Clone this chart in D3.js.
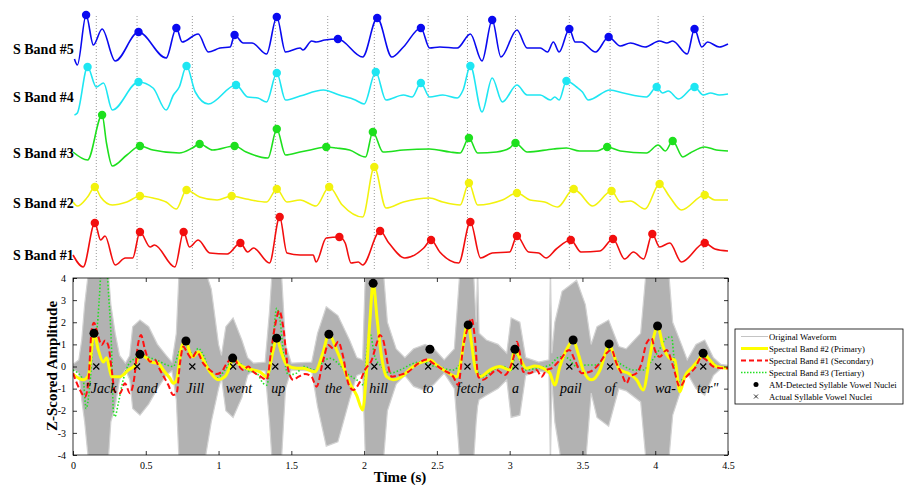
<!DOCTYPE html>
<html><head><meta charset="utf-8">
<script src="https://cdn.jsdelivr.net/npm/d3@7"></script>
<style>
body{margin:0;background:#fff}
svg{display:block}
text{font-family:"Liberation Serif","Times New Roman",serif;fill:#000}
</style>
</head><body>
<svg id="chart" width="906" height="485"></svg>
<script>
// ---------- data ----------
const timeDomain = [0, 4.5];
const xTicks = [0, 0.5, 1, 1.5, 2, 2.5, 3, 3.5, 4, 4.5];
const xTickLabels = ["0", "0.5", "1", "1.5", "2", "2.5", "3", "3.5", "4", "4.5"];
const yTicks = [-4, -3, -2, -1, 0, 1, 2, 3, 4];
const yTickLabels = ["-4", "-3", "-2", "-1", "0", "1", "2", "3", "4"];

// actual syllable vowel nuclei (s)
const nucleiTimes = [0.16, 0.44, 0.82, 1.10, 1.39, 1.75, 2.07, 2.44, 2.71, 3.04, 3.41, 3.69, 4.02, 4.33];
const words = ["\"Jack", "and", "Jill", "went", "up", "the", "hill", "to", "fetch", "a", "pail", "of", "wa-", "ter\""];
const wordTimes = [0.19, 0.51, 0.84, 1.14, 1.41, 1.79, 2.10, 2.44, 2.73, 3.04, 3.42, 3.69, 4.07, 4.36];

// spectral band envelopes [time, amplitude]
const bandNames = ["S Band #5", "S Band #4", "S Band #3", "S Band #2", "S Band #1"];
const band5 = [[0.01,-1.2],[0.03,-1.8],[0.09,3.2],[0.14,0.2],[0.20,1.8],[0.29,-1.4],[0.45,1.5],[0.64,-1.1],[0.71,1.9],[0.75,0.5],[0.86,1.3],[0.93,-0.5],[1.01,-0.1],[1.08,0],[1.11,1.2],[1.17,0.4],[1.23,0.4],[1.33,-0.7],[1.40,3.0],[1.46,-0.5],[1.56,-0.1],[1.58,-0.3],[1.64,0.6],[1.67,0.5],[1.73,0.7],[1.82,0.8],[1.99,-1.0],[2.09,2.9],[2.19,-1.0],[2.27,0],[2.39,1.9],[2.45,-0.1],[2.52,0],[2.64,-0.1],[2.73,1.3],[2.81,-1.4],[2.88,2.7],[2.94,-1.0],[3.05,1.7],[3.12,-0.1],[3.21,-0.1],[3.26,-0.5],[3.30,0.5],[3.34,-0.5],[3.41,1.8],[3.45,0.5],[3.49,0.5],[3.59,-0.5],[3.68,1.0],[3.76,0.1],[3.83,0.4],[3.93,0],[4.03,0.6],[4.08,0.4],[4.12,0.6],[4.22,-0.7],[4.27,1.8],[4.32,0],[4.36,0.5],[4.44,0],[4.5,0.3]];
const band5Peaks = [0.09,0.45,0.71,1.11,1.40,1.82,2.09,2.39,2.88,3.41,3.68,4.27];
const band4 = [[0.01,-2.0],[0.03,-1.8],[0.10,2.8],[0.16,0.8],[0.21,1.2],[0.27,-1.5],[0.45,1.3],[0.55,0.7],[0.64,-1.5],[0.69,0],[0.73,0.8],[0.78,2.9],[0.84,0.3],[0.93,-0.9],[1.12,1.0],[1.20,-0.2],[1.27,-0.3],[1.33,-0.7],[1.40,2.2],[1.46,-0.5],[1.56,-0.1],[1.72,0.5],[1.83,0],[1.94,-0.5],[2.00,-0.9],[2.08,2.3],[2.15,-0.5],[2.27,0],[2.33,-0.2],[2.39,1.2],[2.45,-0.2],[2.54,0],[2.64,-0.3],[2.68,0.5],[2.73,2.9],[2.81,-1.7],[2.88,1.7],[2.95,-0.7],[3.05,1.0],[3.12,0],[3.21,0],[3.28,-0.5],[3.31,-0.2],[3.34,-0.5],[3.39,1.4],[3.46,0.8],[3.50,0.3],[3.54,-0.5],[3.69,0.5],[3.78,0.2],[3.94,-0.2],[4.01,0.8],[4.05,0.2],[4.09,0.4],[4.16,-0.4],[4.27,0.8],[4.33,0],[4.38,0.2],[4.44,0],[4.5,0.1]];
const band4Peaks = [0.10,0.45,0.78,1.12,1.40,2.08,2.39,2.73,3.39,4.01,4.27];
const band3 = [[0.0,-0.1],[0.10,-0.9],[0.20,3.6],[0.23,0.8],[0.27,-1.5],[0.37,-0.4],[0.46,0.5],[0.55,0.1],[0.73,-0.2],[0.82,0.3],[0.87,0.7],[0.96,0.1],[1.11,0.5],[1.19,-0.1],[1.34,-0.7],[1.40,2.2],[1.46,-0.4],[1.56,-0.1],[1.63,0.1],[1.74,0.4],[1.81,0.3],[1.90,0.1],[2.01,-0.6],[2.06,1.9],[2.13,-0.1],[2.27,0.1],[2.45,0.2],[2.59,-0.1],[2.66,-0.2],[2.72,1.3],[2.78,-0.2],[2.91,-0.1],[3.00,0.3],[3.04,0.8],[3.12,-0.1],[3.30,0.2],[3.39,0.3],[3.48,0],[3.60,0],[3.67,0.4],[3.76,0],[3.94,-0.2],[4.02,0.6],[4.07,0],[4.12,1.0],[4.19,-0.6],[4.24,-0.2],[4.34,0.4],[4.42,0.1],[4.5,0]];
const band3Peaks = [0.20,0.46,0.87,1.11,1.40,1.74,2.06,2.72,3.04,3.67,4.12];
const band2 = [[0.0,-0.1],[0.03,-0.5],[0.10,0.4],[0.15,1.4],[0.19,0.4],[0.27,-0.4],[0.37,-0.1],[0.46,0.5],[0.55,0.3],[0.64,-0.1],[0.71,-0.8],[0.78,1.1],[0.87,0.4],[0.99,0.1],[1.09,0.5],[1.19,0.2],[1.33,-0.1],[1.40,1.2],[1.47,-0.1],[1.56,0.1],[1.67,-0.5],[1.76,1.4],[1.85,-0.4],[1.99,-1.6],[2.07,3.4],[2.15,-0.7],[2.27,-0.1],[2.45,0.3],[2.54,-0.1],[2.66,-0.4],[2.72,1.8],[2.78,-0.4],[2.95,0.1],[3.05,0.8],[3.14,0.1],[3.24,-0.1],[3.33,-0.6],[3.44,1.2],[3.48,0.8],[3.57,-0.5],[3.70,1.0],[3.76,-0.1],[3.83,0],[3.93,-0.8],[4.03,1.7],[4.10,0.4],[4.18,-0.9],[4.34,0.6],[4.41,0.1],[4.5,0.1]];
const band2Peaks = [0.15,0.46,0.78,1.09,1.40,1.76,2.07,2.72,3.05,3.44,3.70,4.03,4.34];
const band1 = [[0.0,-0.2],[0.07,-1.4],[0.15,3.0],[0.19,1.3],[0.22,1.7],[0.29,-1.2],[0.36,-0.5],[0.41,-0.5],[0.46,2.1],[0.53,0.6],[0.56,0.8],[0.70,-1.4],[0.76,2.1],[0.80,0.6],[0.86,1.3],[0.94,0],[1.06,-0.1],[1.15,1.0],[1.20,0.1],[1.24,0.5],[1.35,-1.0],[1.42,3.6],[1.47,0],[1.56,-0.2],[1.65,-0.2],[1.67,-0.9],[1.74,1.5],[1.83,1.6],[1.87,1.0],[1.91,-1.0],[1.96,-0.9],[1.99,-1.2],[2.11,2.2],[2.17,1.0],[2.28,-0.5],[2.41,0.5],[2.46,1.3],[2.52,0.1],[2.65,-1.0],[2.73,3.1],[2.80,-0.5],[2.88,0],[3.00,0.1],[3.05,1.7],[3.13,0.1],[3.20,0],[3.25,-0.5],[3.32,0.4],[3.42,1.3],[3.49,0.1],[3.62,0.2],[3.71,1.4],[3.79,-0.6],[3.85,0.1],[3.92,-0.6],[3.98,1.9],[4.03,0.6],[4.10,1.0],[4.18,-0.9],[4.34,1.0],[4.41,0.4],[4.5,0.2]];
const band1Peaks = [0.15,0.46,0.76,1.15,1.42,1.83,2.11,2.46,2.73,3.05,3.42,3.71,3.98,4.34];

// original waveform amplitude envelope, z-scored
const waveTimes = [0.00,0.04,0.06,0.08,0.11,0.24,0.26,0.29,0.32,0.36,0.39,0.41,0.46,0.52,0.58,0.64,0.68,0.71,0.73,0.90,0.95,1.00,1.02,1.05,1.10,1.16,1.20,1.24,1.32,1.35,1.37,1.43,1.46,1.50,1.64,1.68,1.74,1.82,1.90,1.95,1.99,2.01,2.13,2.16,2.22,2.28,2.34,2.42,2.48,2.55,2.62,2.66,2.75,2.77,2.78,2.79,2.84,2.92,2.98,3.01,3.07,3.11,3.20,3.27,3.28,3.29,3.31,3.36,3.46,3.52,3.56,3.60,3.68,3.75,3.80,3.90,3.94,4.09,4.12,4.18,4.22,4.28,4.34,4.40,4.45,4.50];
const waveUpper = [0.1,0.3,1.2,2.8,4.5,4.5,2.8,1.5,0.5,0.15,0.5,1.8,2.1,1.8,1.0,0.5,0.2,1.5,4.5,4.5,3.5,1.0,0.5,1.8,2.2,1.2,0.4,0.15,0.2,2.5,4.5,4.5,1.0,0.15,0.2,1.5,2.7,2.3,1.2,0.4,0.3,4.5,4.5,2.0,0.8,0.4,0.8,1.0,0.8,0.3,0.8,4.5,4.5,2.0,4.5,1.5,1.2,1.0,0.6,2.2,2.0,0.4,0.2,0.3,4.5,0.6,2.0,3.4,3.9,2.8,1.0,1.8,2.1,0.9,0.8,1.5,4.5,4.5,2.0,1.0,0.3,1.0,1.2,0.4,0.1,0.05];
const waveLower = [-0.1,-0.3,-1.5,-2.5,-4.5,-4.5,-2.5,-1.8,-0.6,-0.15,-0.6,-1.9,-2.2,-1.7,-1.0,-0.4,-0.2,-1.5,-4.5,-4.5,-2.5,-1.0,-0.5,-2.0,-2.3,-1.4,-0.4,-0.15,-0.2,-2.5,-4.5,-4.5,-1.0,-0.15,-0.2,-1.8,-3.6,-3.4,-1.5,-0.4,-0.3,-4.5,-4.5,-2.0,-0.8,-0.4,-0.9,-1.1,-0.8,-0.3,-1.0,-4.5,-4.5,-2.5,-1.8,-1.5,-1.3,-1.0,-0.6,-2.3,-2.2,-0.4,-0.2,-0.3,-4.5,-0.6,-2.5,-4.5,-4.5,-4.5,-1.2,-2.3,-2.7,-1.0,-1.1,-1.6,-4.5,-4.5,-2.2,-1.0,-0.3,-1.0,-1.3,-0.4,-0.1,-0.05];

const primary = [[0.00,-0.34],[0.07,-0.6],[0.105,-0.43],[0.144,1.5],[0.174,0.75],[0.208,0.2],[0.231,0.4],[0.266,-0.46],[0.323,-0.46],[0.38,-0.16],[0.426,0.07],[0.46,0.55],[0.506,0.38],[0.54,0.2],[0.586,0.14],[0.62,-0.16],[0.666,-0.53],[0.689,-0.76],[0.712,-0.6],[0.747,0.9],[0.776,1.15],[0.804,0.6],[0.826,0.44],[0.861,0.67],[0.895,0.29],[0.941,-0.24],[0.998,-0.6],[1.044,-0.46],[1.078,0],[1.097,0.38],[1.147,0.07],[1.193,-0.08],[1.238,-0.16],[1.284,-0.24],[1.33,-0.46],[1.376,0.75],[1.399,1.28],[1.433,0.6],[1.468,0.07],[1.536,-0.08],[1.582,-0.08],[1.662,-0.24],[1.719,0.67],[1.758,1.46],[1.811,0.75],[1.856,0],[1.902,-0.76],[1.948,-1.29],[1.99,-1.97],[2.017,-0.16],[2.04,2.1],[2.062,3.76],[2.09,2.1],[2.12,0.44],[2.155,-0.46],[2.20,-0.6],[2.257,-0.46],[2.337,0],[2.406,0.22],[2.452,0.29],[2.498,0.07],[2.567,-0.24],[2.635,-0.46],[2.67,0.44],[2.697,1.65],[2.715,1.88],[2.738,1.05],[2.761,0],[2.795,-0.46],[2.864,-0.16],[2.933,0],[3.001,-0.16],[3.036,0.78],[3.07,0.37],[3.116,-0.08],[3.173,0.02],[3.23,-0.08],[3.276,-0.3],[3.31,-0.84],[3.345,0],[3.402,0.9],[3.436,1.2],[3.47,0.6],[3.505,-0.16],[3.562,-0.6],[3.62,-0.16],[3.665,0.75],[3.683,1.02],[3.711,0.6],[3.757,-0.16],[3.814,-0.3],[3.872,-0.6],[3.917,-1.06],[3.963,0.44],[3.99,1.35],[4.016,1.83],[4.054,0.9],[4.10,0.37],[4.135,0.29],[4.169,-1.14],[4.203,-0.46],[4.26,0],[4.306,0.37],[4.329,0.6],[4.375,0.29],[4.421,0],[4.5,-0.08]];
const secondary = [[0.00,-0.3],[0.048,-1.06],[0.082,-1.37],[0.105,-0.76],[0.128,1.65],[0.144,1.98],[0.174,1.35],[0.197,0.97],[0.22,1.17],[0.242,0.97],[0.266,-0.16],[0.288,-1.14],[0.323,-1.21],[0.357,-0.76],[0.391,-1.21],[0.419,-0.6],[0.448,1.05],[0.467,1.42],[0.495,0.75],[0.529,0.22],[0.563,0.29],[0.598,-0.16],[0.655,-0.84],[0.689,-1.29],[0.712,-1.21],[0.735,0.14],[0.758,0.9],[0.781,0.67],[0.815,0.37],[0.85,0.67],[0.895,0.14],[0.941,-0.16],[0.987,-0.34],[1.021,-0.24],[1.056,0.14],[1.101,0.4],[1.135,0.07],[1.17,-0.16],[1.204,0],[1.238,-0.24],[1.284,-0.43],[1.33,-0.6],[1.365,0.9],[1.387,1.8],[1.417,2.52],[1.444,1.8],[1.479,-0.16],[1.513,-0.6],[1.55,-0.46],[1.593,-0.34],[1.639,-0.46],[1.673,-0.91],[1.719,0.29],[1.753,0.97],[1.788,0.82],[1.822,1.12],[1.856,0.44],[1.891,-0.76],[1.925,-1.06],[1.971,-0.69],[2.005,-0.16],[2.052,0.29],[2.09,1.12],[2.108,1.42],[2.131,1.2],[2.166,0],[2.189,-0.46],[2.246,-0.38],[2.303,-0.24],[2.372,0.14],[2.429,0.32],[2.475,0.14],[2.543,-0.16],[2.612,-0.46],[2.646,-0.84],[2.681,0.9],[2.715,1.8],[2.738,2.18],[2.761,1.28],[2.784,-0.46],[2.818,-0.6],[2.864,-0.38],[2.91,-0.16],[2.967,-0.38],[3.001,-0.08],[3.03,0.5],[3.05,1.12],[3.07,0.6],[3.093,-0.24],[3.139,-0.3],[3.185,-0.16],[3.219,-0.46],[3.253,-0.16],[3.288,-0.08],[3.345,0.29],[3.409,0.75],[3.448,0.29],[3.494,-0.3],[3.551,-0.24],[3.608,0.07],[3.665,0.6],[3.70,0.75],[3.734,0.14],[3.768,-0.3],[3.803,-0.76],[3.826,-0.46],[3.872,-0.3],[3.906,0.14],[3.94,1.05],[3.975,1.28],[3.997,0.75],[4.031,0.44],[4.078,0.75],[4.123,0],[4.169,-0.91],[4.215,-0.46],[4.272,-0.08],[4.318,0.41],[4.352,0.29],[4.398,0],[4.466,-0.08],[4.5,-0.08]];
const tertiary = [[0.00,-0.16],[0.07,-0.6],[0.09,-1.9],[0.12,-0.5],[0.14,1.35],[0.163,1.65],[0.18,3.0],[0.197,4.6],[0.227,4.6],[0.247,3.0],[0.266,0.6],[0.277,-1.97],[0.288,-2.27],[0.311,-1.67],[0.345,-0.6],[0.38,0.07],[0.426,0.37],[0.46,0.52],[0.506,0.44],[0.575,0.29],[0.644,0.07],[0.689,0],[0.735,0.75],[0.781,0.9],[0.826,0.52],[0.861,0.82],[0.895,0.52],[0.941,-0.24],[0.987,-0.53],[1.044,-0.16],[1.09,0.22],[1.147,0.14],[1.193,-0.16],[1.262,-0.3],[1.307,-0.76],[1.33,-0.84],[1.376,1.35],[1.399,2.63],[1.422,2.1],[1.444,0.75],[1.479,-0.38],[1.536,-0.3],[1.582,0],[1.662,-0.16],[1.719,0.22],[1.765,0.37],[1.822,0.14],[1.88,-0.3],[1.948,-0.6],[1.999,-0.84],[2.017,0.6],[2.04,1.5],[2.074,0.44],[2.12,0],[2.177,-0.3],[2.246,-0.16],[2.337,0.14],[2.406,0.22],[2.452,0.07],[2.52,-0.04],[2.612,-0.16],[2.658,0.14],[2.697,1.5],[2.715,1.8],[2.745,0.9],[2.773,-0.16],[2.818,-0.46],[2.887,-0.16],[2.955,0],[3.013,-0.16],[3.04,0.6],[3.07,0.29],[3.104,-0.16],[3.185,-0.08],[3.276,0.07],[3.345,0.44],[3.402,0.37],[3.459,0],[3.528,0.07],[3.597,0.07],[3.654,0.52],[3.688,0.82],[3.734,0.29],[3.791,0],[3.848,-0.16],[3.917,-0.16],[3.963,0.14],[4.02,0.67],[4.078,1.28],[4.112,1.35],[4.135,0],[4.169,-0.69],[4.215,-0.3],[4.272,0],[4.318,0.44],[4.375,0.29],[4.431,0],[4.5,-0.08]];

// AM-detected syllable vowel nuclei
const detectedTimes = [0.144,0.46,0.776,1.097,1.399,1.758,2.062,2.452,2.715,3.036,3.436,3.683,4.016,4.329];
const detectedValues = [1.5,0.55,1.15,0.38,1.28,1.46,3.76,0.78,1.88,0.78,1.2,1.02,1.83,0.6];

const legendLabels = ["Original Waveform", "Spectral Band #2 (Primary)", "Spectral Band #1 (Secondary)",
  "Spectral Band #3 (Tertiary)", "AM-Detected Syllable Vowel Nuclei", "Actual Syllable Vowel Nuclei"];

// ---------- drawing ----------
const svg = d3.select("#chart");
const x = d3.scaleLinear().domain(timeDomain).range([73, 728]);

// upper panel: stacked spectral band envelopes
const bands = [
  {name: bandNames[0], data: band5, peaks: band5Peaks, color: "#0a0af0", base: 47},
  {name: bandNames[1], data: band4, peaks: band4Peaks, color: "#1ee6f2", base: 95},
  {name: bandNames[2], data: band3, peaks: band3Peaks, color: "#1ee01e", base: 151},
  {name: bandNames[3], data: band2, peaks: band2Peaks, color: "#f2f20e", base: 201},
  {name: bandNames[4], data: band1, peaks: band1Peaks, color: "#f20e0e", base: 253}
];

const bandPanel = svg.append("g");
bandPanel.selectAll("line.nuc").data(nucleiTimes).join("line")
  .attr("x1", d => x(d)).attr("x2", d => x(d))
  .attr("y1", 16).attr("y2", 270)
  .attr("stroke", "#9a9a9a").attr("stroke-width", 1)
  .attr("stroke-dasharray", "1,2");

bands.forEach(b => {
  const by = d3.scaleLinear().domain([-1, 1]).range([b.base + 10, b.base - 10]);
  const line = d3.line().x(d => x(d[0])).y(d => by(d[1])).curve(d3.curveMonotoneX);
  bandPanel.append("path").datum(b.data).attr("d", line)
    .attr("fill", "none").attr("stroke", b.color).attr("stroke-width", 1.6);
  const pk = b.data.filter(d => b.peaks.includes(d[0]));
  bandPanel.selectAll(null).data(pk).join("circle")
    .attr("cx", d => x(d[0])).attr("cy", d => by(d[1])).attr("r", 4.2)
    .attr("fill", b.color);
  bandPanel.append("text").attr("x", 13).attr("y", b.base + 3).attr("dy", "0.32em")
    .attr("font-size", 14).attr("font-weight", "bold").text(b.name);
});

// lower panel
const y = d3.scaleLinear().domain([-4, 4]).range([455, 278]);
const plot = svg.append("g");
svg.append("defs").append("clipPath").attr("id", "plotClip")
  .append("rect").attr("x", 73).attr("y", 278).attr("width", 655).attr("height", 177);
const inner = plot.append("g").attr("clip-path", "url(#plotClip)");

const wave = waveTimes.map((t, i) => [t, waveUpper[i], waveLower[i]]);
inner.append("path").datum(wave)
  .attr("d", d3.area().x(d => x(d[0])).y0(d => y(d[2])).y1(d => y(d[1])).curve(d3.curveLinear))
  .attr("fill", "#b2b2b2").attr("stroke", "#d2d2d2").attr("stroke-width", 1.2);

const bl = d3.line().x(d => x(d[0])).y(d => y(d[1])).curve(d3.curveMonotoneX);
inner.append("path").datum(tertiary).attr("d", bl)
  .attr("fill", "none").attr("stroke", "#22e022").attr("stroke-width", 1.6).attr("stroke-dasharray", "1.5,2");
inner.append("path").datum(primary).attr("d", bl)
  .attr("fill", "none").attr("stroke", "#ffff00").attr("stroke-width", 3);
inner.append("path").datum(secondary).attr("d", bl)
  .attr("fill", "none").attr("stroke", "#ff1010").attr("stroke-width", 2).attr("stroke-dasharray", "6,3");

// actual nuclei (x marks)
inner.selectAll("path.xm").data(nucleiTimes).join("path")
  .attr("d", d => `M${x(d)-3},${y(0)-3}L${x(d)+3},${y(0)+3}M${x(d)-3},${y(0)+3}L${x(d)+3},${y(0)-3}`)
  .attr("stroke", "#000").attr("stroke-width", 1.1);
// detected nuclei
inner.selectAll("circle.det").data(detectedTimes).join("circle")
  .attr("cx", d => x(d)).attr("cy", (d, i) => y(detectedValues[i])).attr("r", 4.5)
  .attr("fill", "#000");

// words
plot.selectAll("text.word").data(words).join("text")
  .attr("x", (d, i) => x(wordTimes[i])).attr("y", y(-1.2))
  .attr("text-anchor", "middle").attr("font-size", 14).attr("font-style", "italic")
  .text(d => d);

// frame and axes (inward ticks)
plot.append("rect").attr("x", 73).attr("y", 278).attr("width", 655).attr("height", 177)
  .attr("fill", "none").attr("stroke", "#000").attr("stroke-width", 0.8);
const axB = plot.append("g").attr("transform", "translate(0,455)")
  .call(d3.axisBottom(x).tickValues(xTicks).tickFormat((d, i) => xTickLabels[i]).tickSizeInner(-4).tickSizeOuter(0).tickPadding(7));
const axT = plot.append("g").attr("transform", "translate(0,278)")
  .call(d3.axisTop(x).tickValues(xTicks).tickFormat("").tickSizeInner(-4).tickSizeOuter(0));
const axL = plot.append("g").attr("transform", "translate(73,0)")
  .call(d3.axisLeft(y).tickValues(yTicks).tickFormat((d, i) => yTickLabels[i]).tickSizeInner(-4).tickSizeOuter(0).tickPadding(7));
const axR = plot.append("g").attr("transform", "translate(728,0)")
  .call(d3.axisRight(y).tickValues(yTicks).tickFormat("").tickSizeInner(-4).tickSizeOuter(0));
[axB, axT, axL, axR].forEach(a => {
  a.select(".domain").remove();
  a.selectAll("line").attr("stroke", "#000").attr("stroke-width", 0.8);
  a.selectAll("text").attr("font-size", 10).attr("font-family", "Liberation Serif, serif");
});

svg.append("text").attr("transform", "translate(57,366) rotate(-90)")
  .attr("text-anchor", "middle").attr("font-size", 15).attr("font-weight", "bold").text("Z-Scored Amplitude");
svg.append("text").attr("x", 400).attr("y", 482)
  .attr("text-anchor", "middle").attr("font-size", 15).attr("font-weight", "bold").text("Time (s)");

// legend
const lg = svg.append("g").attr("transform", "translate(735,329)");
lg.append("rect").attr("width", 168).attr("height", 75).attr("fill", "#fff").attr("stroke", "#000").attr("stroke-width", 0.8);
const rowY = i => 7.5 + i * 12;
lg.selectAll("text").data(legendLabels).join("text")
  .attr("x", 34).attr("y", (d, i) => rowY(i)).attr("dy", "0.35em")
  .attr("font-size", 8.7).text(d => d);
const sample = [
  {stroke: "#c4c4c4", w: 1, dash: null},
  {stroke: "#ffff00", w: 3, dash: null},
  {stroke: "#ff1010", w: 2, dash: "5,3"},
  {stroke: "#22e022", w: 1.5, dash: "1.5,1.5"}
];
sample.forEach((s, i) => {
  lg.append("line").attr("x1", 6).attr("x2", 33).attr("y1", rowY(i)).attr("y2", rowY(i))
    .attr("stroke", s.stroke).attr("stroke-width", s.w).attr("stroke-dasharray", s.dash);
});
lg.append("circle").attr("cx", 21).attr("cy", rowY(4)).attr("r", 2.5).attr("fill", "#000");
lg.append("path").attr("d", `M19,${rowY(5)-2}L23,${rowY(5)+2}M19,${rowY(5)+2}L23,${rowY(5)-2}`)
  .attr("stroke", "#000").attr("stroke-width", 0.8);
</script>
</body></html>
